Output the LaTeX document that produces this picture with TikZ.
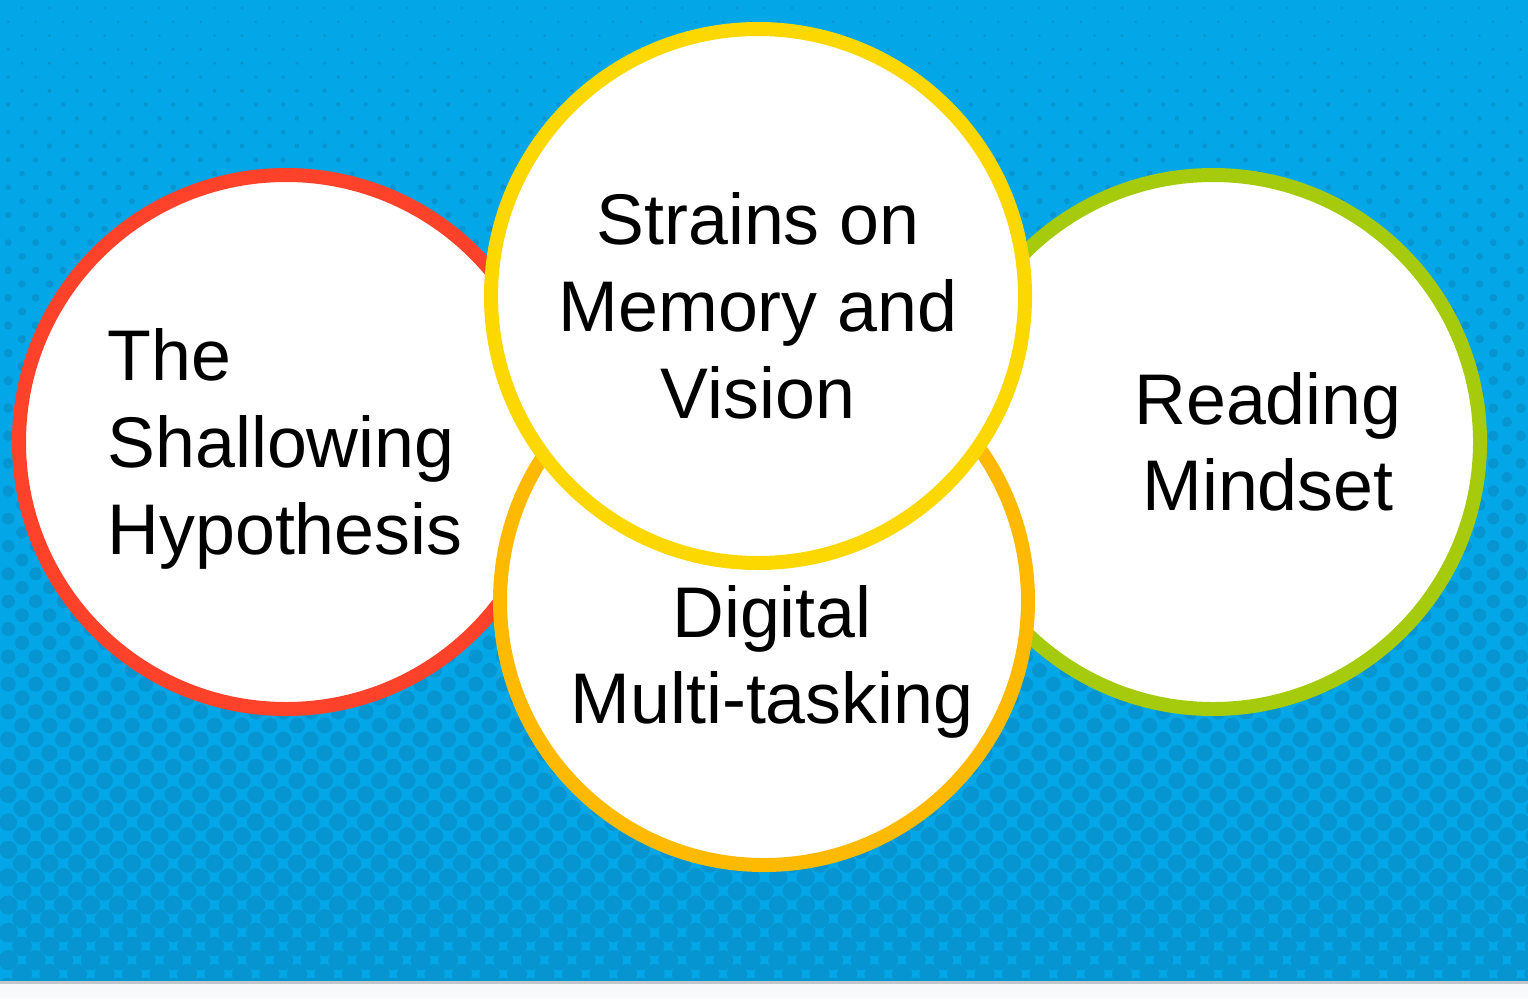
\documentclass[tikz,border=0pt]{standalone}
\usepackage{fontspec}
\setmainfont{Liberation Sans}
\usepackage{tikz}
\usetikzlibrary{positioning}
\usepackage{xcolor}

\definecolor{skyblue}{HTML}{03A7E7}
\definecolor{dotblue}{HTML}{0795D1}
\definecolor{ringred}{HTML}{FF4229}
\definecolor{ringgreen}{HTML}{A6CB0C}
\definecolor{ringorange}{HTML}{FFBA00}
\definecolor{ringyellow}{HTML}{FCD700}
\definecolor{stripgray}{HTML}{C2C7CB}
\definecolor{pagewhite}{HTML}{F8F9FB}

\begin{document}
\begin{tikzpicture}[x=1bp, y=-1bp,
    bubble/.style={circle, line width=14bp, fill=white, minimum size=534bp, inner sep=0pt},
    caption/.style={font=\fontsize{72}{87}\selectfont, text=black, inner sep=0pt}]
        \useasboundingbox (0,0) rectangle (1528,998);

        % Background with halftone dots
        \fill[pagewhite] (0,0) rectangle (1528,998);
        \begin{scope}
            \clip (0,0) rectangle (1528,981);
            \fill[skyblue] (0,0) rectangle (1528,981);
            \foreach \row in {0,...,71} {
                \pgfmathsetmacro\yy{8+13.8*\row}
                \pgfmathsetmacro\rr{1.2+0.0092*\yy}
                \pgfmathsetmacro\xo{mod(\row,2)==0 ? 22 : 8.2}
                \foreach \col in {0,...,56}
                    \fill[dotblue] ({\xo+27.5*\col},\yy) circle (\rr bp);
            }
        \end{scope}
        \fill[stripgray] (0,981) rectangle (1528,984);

        % Circles
        \node[bubble, draw=ringred] (shallow) at (286,442) {};
        \node[bubble, draw=ringgreen] (mindset) at (1213,442) {};
        \node[bubble, draw=ringorange, minimum size=528bp] (multitask) at (764,601) {};
        \node[bubble, draw=ringyellow] (strains) at (758,296) {};

        % Labels
        \node[caption, align=left] (shallowtxt) at (285,449) {The\\Shallowing\\Hypothesis};
        \node[caption, align=center] (mindsettxt) at (1268,442) {Reading\\Mindset};
        \node[caption, align=center] (multitasktxt) at (772,662) {Digital\\Multi-tasking};
        \node[caption, align=center] (strainstxt) at (758,306) {Strains on\\Memory and\\Vision};
    \end{tikzpicture}
\end{document}
